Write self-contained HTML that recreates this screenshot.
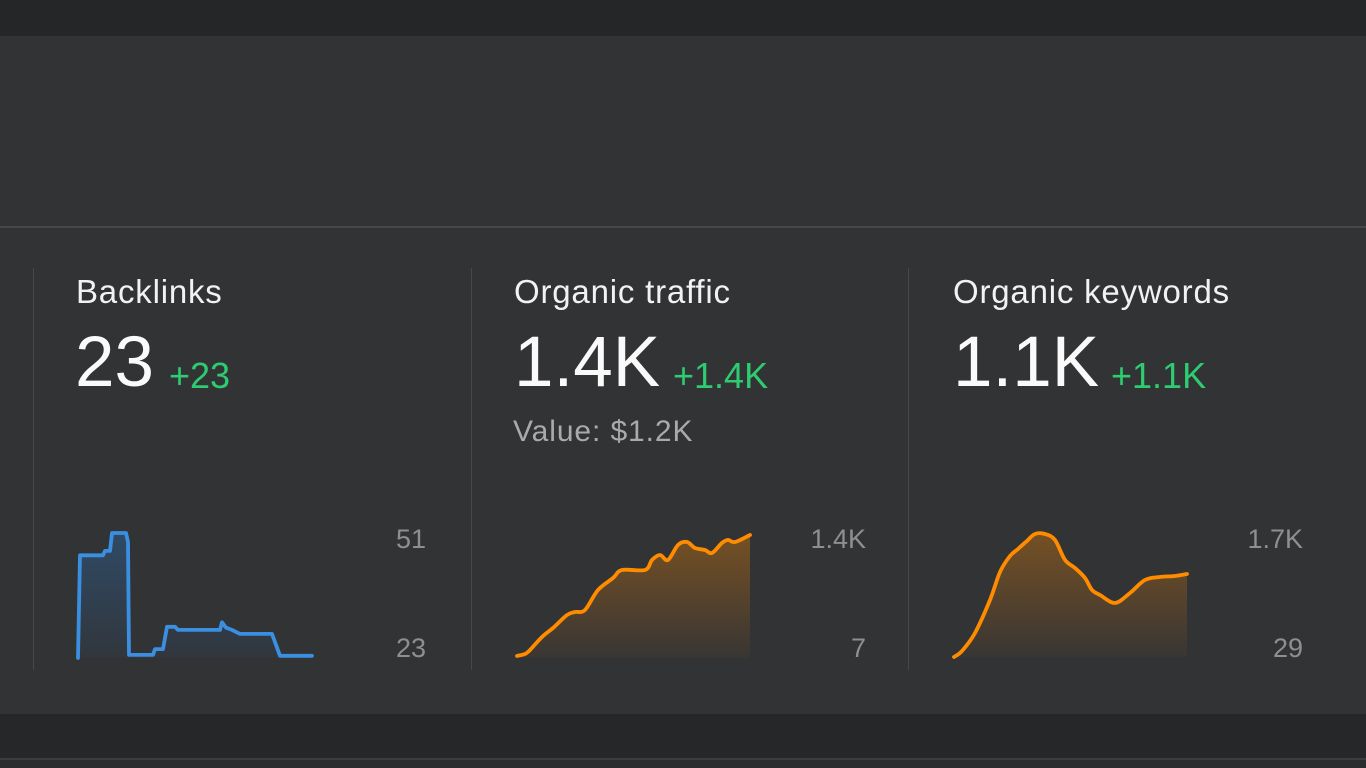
<!DOCTYPE html>
<html><head><meta charset="utf-8">
<style>
html,body{margin:0;padding:0;width:1366px;height:768px;overflow:hidden;background:#323335;font-family:"Liberation Sans",Arial,sans-serif}
.abs{position:absolute;line-height:1;white-space:nowrap}
.title{font-size:33px;color:#f2f2f2;letter-spacing:0.8px}
.big{font-size:71px;color:#fafafa}
.delta{font-size:36px;color:#2ecc71}
.sub{font-size:30px;color:#a9aaac;letter-spacing:0.9px}
.tick{font-size:27px;color:#8e8f92;text-align:right;width:90px}
.sep{position:absolute;width:1px;background:#47484b;top:268px;height:402px}
</style></head>
<body>
<div class="abs" style="left:0;top:0;width:1366px;height:36px;background:#252628"></div>
<div class="abs" style="left:0;top:226px;width:1366px;height:2px;background:#47484b"></div>
<div class="abs" style="left:0;top:714px;width:1366px;height:44px;background:#262729"></div>
<div class="abs" style="left:0;top:758px;width:1366px;height:2px;background:#3c3d40"></div>
<div class="abs" style="left:0;top:760px;width:1366px;height:8px;background:#2b2c2e"></div>

<div class="sep" style="left:33px"></div>
<div class="sep" style="left:471px"></div>
<div class="sep" style="left:908px"></div>

<div class="abs title" style="left:76px;top:275px">Backlinks</div>
<div class="abs big" style="left:75px;top:327px">23</div>
<div class="abs delta" style="left:169px;top:358px">+23</div>

<div class="abs title" style="left:514px;top:275px">Organic traffic</div>
<div class="abs big" style="left:514px;top:327px">1.4K</div>
<div class="abs delta" style="left:673px;top:358px">+1.4K</div>
<div class="abs sub" style="left:513px;top:417px">Value: $1.2K</div>

<div class="abs title" style="left:953px;top:275px">Organic keywords</div>
<div class="abs big" style="left:953px;top:327px">1.1K</div>
<div class="abs delta" style="left:1111px;top:358px">+1.1K</div>

<div class="abs tick" style="left:336px;top:526px">51</div>
<div class="abs tick" style="left:336px;top:635px">23</div>
<div class="abs tick" style="left:776px;top:526px">1.4K</div>
<div class="abs tick" style="left:776px;top:635px">7</div>
<div class="abs tick" style="left:1213px;top:526px">1.7K</div>
<div class="abs tick" style="left:1213px;top:635px">29</div>

<svg class="abs" width="1366" height="768" style="left:0;top:0">
<defs>
<linearGradient id="gb" x1="0" y1="0" x2="0" y2="1"><stop offset="0" stop-color="#2f4a66"/><stop offset="1" stop-color="#2f4a66" stop-opacity="0.15"/></linearGradient>
<linearGradient id="go" x1="0" y1="0" x2="0" y2="1"><stop offset="0" stop-color="#ff8c00" stop-opacity="0.33"/><stop offset="1" stop-color="#ff8c00" stop-opacity="0.03"/></linearGradient>
</defs>
<g id="charts"></g>
</svg>

<script>
const backlinksDays = [0,2,25,27,32,34,48,50,51,75,77,85,89,97,100,142,144,148,154,162,194,202,234];
const backlinksValues = [23,46,46,47,47,51,51,49,23.7,23.7,25,25,30,30,29.3,29.3,31,29.8,29.3,28.4,28.4,23.5,23.5];
const trafficDays = [0,8,13,25,36,50,58,68,81,96,105,128,135,143,151,161,170,178,188,195,205,211,218,233];
const trafficValues = [30,52,98,245,347,494,528,551,777,913,1004,1004,1117,1174,1117,1287,1321,1253,1230,1196,1310,1344,1321,1400];
const keywordsDays = [0,8,21,36,46,56,64,73,81,91,101,111,121,131,138,146,161,176,191,206,221,233];
const keywordsValues = [29,110,352,797,1175,1390,1485,1593,1687,1687,1606,1337,1229,1094,932,865,757,892,1067,1107,1121,1148];
const backlinksRange = [23,51];
const trafficRange = [7,1400];
const keywordsRange = [29,1700];

const g = document.getElementById('charts');
const NS = 'http://www.w3.org/2000/svg';
function pathD(pts, smooth){
  if(!smooth) return pts.map((p,i)=>(i?'L':'M')+p[0].toFixed(1)+','+p[1].toFixed(1)).join(' ');
  let d = 'M'+pts[0][0]+','+pts[0][1];
  for(let i=0;i<pts.length-1;i++){
    const p0 = pts[i-1]||pts[i], p1 = pts[i], p2 = pts[i+1], p3 = pts[i+2]||p2;
    const c1x = p1[0]+(p2[0]-p0[0])/6, c1y = p1[1]+(p2[1]-p0[1])/6;
    const c2x = p2[0]-(p3[0]-p1[0])/6, c2y = p2[1]-(p3[1]-p1[1])/6;
    d += ' C'+c1x.toFixed(1)+','+c1y.toFixed(1)+' '+c2x.toFixed(1)+','+c2y.toFixed(1)+' '+p2[0].toFixed(1)+','+p2[1].toFixed(1);
  }
  return d;
}
function draw(days, vals, range, x0, y0, y1, color, fill, name, smooth){
  const xs = d => x0 + d;
  const ys = v => y0 - (v - range[0]) / (range[1] - range[0]) * (y0 - y1);
  const pts = days.map((d,i)=>[xs(d), ys(vals[i])]);
  const line = pathD(pts, smooth);
  const area = document.createElementNS(NS,'path');
  area.setAttribute('d', line + ' L'+pts[pts.length-1][0]+','+y0+' L'+pts[0][0]+','+y0+' Z');
  area.setAttribute('fill', fill);
  
  
  g.appendChild(area);
  const p = document.createElementNS(NS,'path');
  p.setAttribute('d', line);
  p.setAttribute('fill','none');
  p.setAttribute('stroke', color);
  p.setAttribute('stroke-width','3.8');
  p.setAttribute('stroke-linejoin','round');
  p.setAttribute('stroke-linecap','round');
  
  
  g.appendChild(p);
}
draw(backlinksDays, backlinksValues, backlinksRange, 78, 658, 533, '#3a8fe0', 'url(#gb)', 'backlinks', false);
draw(trafficDays, trafficValues, trafficRange, 517, 658, 535, '#ff8c00', 'url(#go)', 'traffic', true);
draw(keywordsDays, keywordsValues, keywordsRange, 954, 657, 533, '#ff8c00', 'url(#go)', 'keywords', true);
</script>
</body></html>
